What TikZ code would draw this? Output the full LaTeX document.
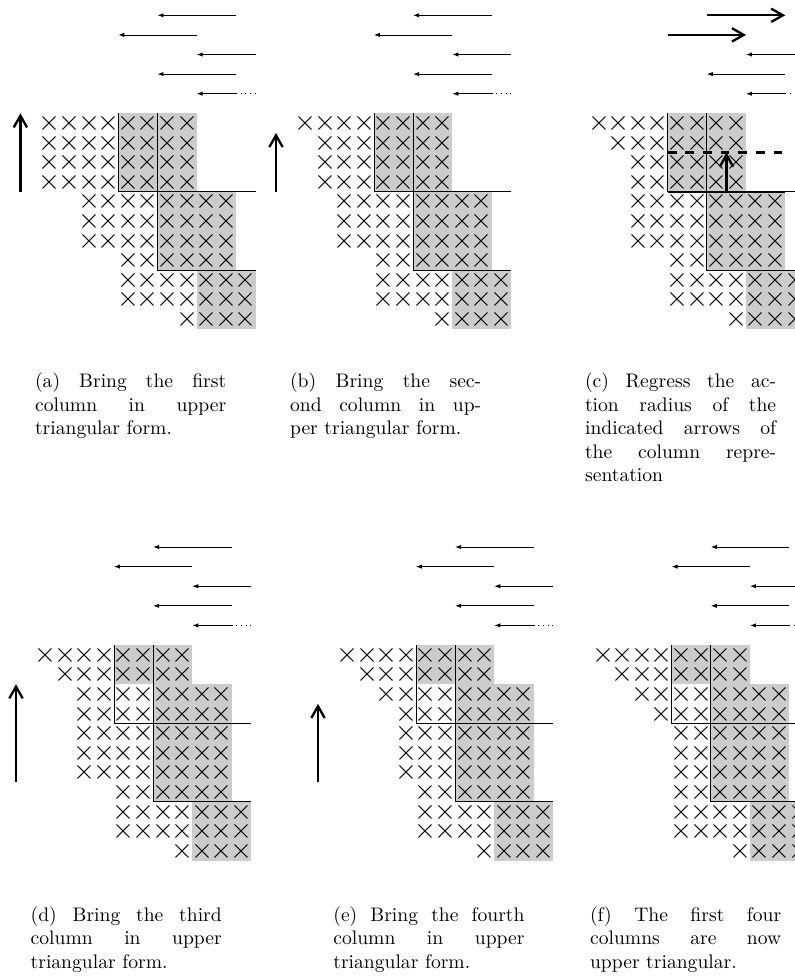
\documentclass[tikz,border=0pt]{standalone}
\usetikzlibrary{arrows.meta}
\definecolor{cellgray}{gray}{0.8}
\tikzset{
  thinarrow/.style={line width=0.4pt,-{Latex[length=3pt,width=2.2pt]}},
  bigarrow/.style={line width=1.2pt,-{Straight Barb[length=6pt,width=6.8pt]}},
  xmark/.style={inner sep=0pt,outer sep=0pt,font=\fontsize{14.6}{16}\selectfont},
  rulex/.style={line width=0.5pt},
  graybox/.style={fill=cellgray,draw=none},
  captext/.style={text width=97.5pt,align=justify,inner sep=0pt,anchor=north west,font=\normalsize},
}
\newcommand{\xrow}[4]{%
  \foreach \cc in {#3,...,#4} {\node[xmark] (#1-#2-\cc) at (\cc+0.5,#2+0.52) {$\times$};}%
}
\newcommand{\lowerrows}[1]{%
  \xrow{#1}{7}{4}{9}\xrow{#1}{8}{4}{10}\xrow{#1}{9}{4}{10}\xrow{#1}{10}{7}{10}%
}
\newcommand{\toparrows}[1]{%
  \coordinate (#1-a1s) at (10,-5); \coordinate (#1-a1e) at (6,-5);
  \coordinate (#1-a2s) at (8,-4);  \coordinate (#1-a2e) at (4,-4);
  \coordinate (#1-a3s) at (11,-3); \coordinate (#1-a3e) at (8,-3);
  \coordinate (#1-a4s) at (10,-2); \coordinate (#1-a4e) at (6,-2);
  \coordinate (#1-a5s) at (10,-1); \coordinate (#1-a5e) at (8,-1);
  \coordinate (#1-a5d) at (11,-1);
  \draw[thinarrow] (#1-a1s) -- (#1-a1e);
  \draw[thinarrow] (#1-a2s) -- (#1-a2e);
  \draw[thinarrow] (#1-a3s) -- (#1-a3e);
  \draw[thinarrow] (#1-a4s) -- (#1-a4e);
  \draw[thinarrow] (#1-a5s) -- (#1-a5e);
  \draw[line width=0.4pt,dotted] (#1-a5d) -- (#1-a5s);
}
\newcommand{\rulesA}[1]{%
  \coordinate (#1-p0) at (4,0); \coordinate (#1-p1) at (4,4); \coordinate (#1-p2) at (11,4);
  \coordinate (#1-q0) at (6,0); \coordinate (#1-q1) at (6,8); \coordinate (#1-q2) at (11,8);
  \draw[rulex] (#1-p0) -- (#1-p1) -- (#1-p2);
  \draw[rulex] (#1-q0) -- (#1-q1) -- (#1-q2);
}
\begin{document}
\begin{tikzpicture}[x=0.5102pt,y=-0.5102pt]
\useasboundingbox (0,0) rectangle (795,977);
\clip (0,0) rectangle (795,977);

% ---------- (a)
\begin{scope}[shift={(40,113.3)},x=10pt,y=-10pt]
  \fill[graybox] (4,0) rectangle (8,4);
  \fill[graybox] (6,4) rectangle (10,8);
  \fill[graybox] (8,8) rectangle (11,11);
  \xrow{a}{0}{0}{7}\xrow{a}{1}{0}{7}\xrow{a}{2}{0}{7}\xrow{a}{3}{0}{7}
  \xrow{a}{4}{2}{9}\xrow{a}{5}{2}{9}\xrow{a}{6}{2}{9}
  \lowerrows{a}
  \rulesA{a}
  \toparrows{a}
  \coordinate (a-up0) at (-1,4); \coordinate (a-up1) at (-1,0);
  \draw[bigarrow] (a-up0) -- (a-up1);
\end{scope}

% ---------- (b)
\begin{scope}[shift={(295.6,113.3)},x=10pt,y=-10pt]
  \fill[graybox] (4,0) rectangle (8,4);
  \fill[graybox] (6,4) rectangle (10,8);
  \fill[graybox] (8,8) rectangle (11,11);
  \xrow{b}{0}{0}{7}\xrow{b}{1}{1}{7}\xrow{b}{2}{1}{7}\xrow{b}{3}{1}{7}
  \xrow{b}{4}{2}{9}\xrow{b}{5}{2}{9}\xrow{b}{6}{2}{9}
  \lowerrows{b}
  \rulesA{b}
  \toparrows{b}
  \coordinate (b-up0) at (-1,4); \coordinate (b-up1) at (-1,1);
  \draw[bigarrow] (b-up0) -- (b-up1);
\end{scope}

% ---------- (c)
\begin{scope}[shift={(589.3,113.3)},x=10pt,y=-10pt]
  \fill[graybox] (4,0) rectangle (8,4);
  \fill[graybox] (6,4) rectangle (10,8);
  \fill[graybox] (8,8) rectangle (11,11);
  \xrow{c}{0}{0}{7}\xrow{c}{1}{1}{7}\xrow{c}{2}{2}{7}\xrow{c}{3}{2}{7}
  \xrow{c}{4}{2}{9}\xrow{c}{5}{2}{9}\xrow{c}{6}{2}{9}
  \lowerrows{c}
  \rulesA{c}
  \coordinate (c-t0) at (4,4); \coordinate (c-t1) at (10,4);
  \draw[line width=1.2pt] (c-t0) -- (c-t1);
  \coordinate (c-d0) at (4,2); \coordinate (c-d1) at (10,2);
  \draw[line width=1.2pt,dash pattern=on 4.5pt off 4.5pt] (c-d0) -- (c-d1);
  \coordinate (c-up0) at (7,4); \coordinate (c-up1) at (7,2);
  \draw[bigarrow] (c-up0) -- (c-up1);
  % top arrows
  \coordinate (c-a1s) at (6,-5); \coordinate (c-a1e) at (10,-5);
  \coordinate (c-a2s) at (4,-4); \coordinate (c-a2e) at (8,-4);
  \coordinate (c-a3s) at (11,-3); \coordinate (c-a3e) at (8,-3);
  \coordinate (c-a4s) at (10,-2); \coordinate (c-a4e) at (6,-2);
  \coordinate (c-a5s) at (10,-1); \coordinate (c-a5e) at (8,-1);
  \coordinate (c-a5d) at (11,-1);
  \draw[bigarrow] (c-a1s) -- (c-a1e);
  \draw[bigarrow] (c-a2s) -- (c-a2e);
  \draw[thinarrow] (c-a3s) -- (c-a3e);
  \draw[thinarrow] (c-a4s) -- (c-a4e);
  \draw[thinarrow] (c-a5s) -- (c-a5e);
  \draw[line width=0.4pt,dotted] (c-a5d) -- (c-a5s);
\end{scope}

% ---------- (d)
\begin{scope}[shift={(35.6,645)},x=10pt,y=-10pt]
  \fill[graybox] (4,0) rectangle (8,2);
  \fill[graybox] (6,2) rectangle (10,8);
  \fill[graybox] (8,8) rectangle (11,11);
  \xrow{d}{0}{0}{7}\xrow{d}{1}{1}{7}\xrow{d}{2}{2}{9}\xrow{d}{3}{2}{9}
  \xrow{d}{4}{2}{9}\xrow{d}{5}{2}{9}\xrow{d}{6}{2}{9}
  \lowerrows{d}
  \rulesA{d}
  \toparrows{d}
  \coordinate (d-up0) at (-1,7); \coordinate (d-up1) at (-1,2);
  \draw[bigarrow] (d-up0) -- (d-up1);
\end{scope}

% ---------- (e)
\begin{scope}[shift={(337.6,645)},x=10pt,y=-10pt]
  \fill[graybox] (4,0) rectangle (8,2);
  \fill[graybox] (6,2) rectangle (10,8);
  \fill[graybox] (8,8) rectangle (11,11);
  \xrow{e}{0}{0}{7}\xrow{e}{1}{1}{7}\xrow{e}{2}{2}{9}\xrow{e}{3}{3}{9}
  \xrow{e}{4}{3}{9}\xrow{e}{5}{3}{9}\xrow{e}{6}{3}{9}
  \lowerrows{e}
  \rulesA{e}
  \toparrows{e}
  \coordinate (e-up0) at (-1,7); \coordinate (e-up1) at (-1,3);
  \draw[bigarrow] (e-up0) -- (e-up1);
\end{scope}

% ---------- (f)
\begin{scope}[shift={(593.3,645)},x=10pt,y=-10pt]
  \fill[graybox] (4,0) rectangle (8,2);
  \fill[graybox] (6,2) rectangle (10,8);
  \fill[graybox] (8,8) rectangle (11,11);
  \xrow{f}{0}{0}{7}\xrow{f}{1}{1}{7}\xrow{f}{2}{2}{9}\xrow{f}{3}{3}{9}
  \xrow{f}{4}{4}{9}\xrow{f}{5}{4}{9}\xrow{f}{6}{4}{9}
  \lowerrows{f}
  \rulesA{f}
  \toparrows{f}
\end{scope}

% ---------- captions
\node[captext] (capa) at (34.7,372.6) {(a) Bring the first\linebreak column in upper\linebreak triangular form.};
\node[captext] (capb) at (289.7,372.6) {(b) Bring the sec-\linebreak ond column in up-\linebreak per triangular form.};
\node[captext] (capc) at (584.7,372.6) {(c) Regress the ac-\linebreak tion radius of the\linebreak indicated arrows of\linebreak the column repre-\linebreak sentation};
\node[captext] (capd) at (30.3,906) {(d) Bring the third\linebreak column in upper\linebreak triangular form.};
\node[captext] (cape) at (333,906) {(e) Bring the fourth\linebreak column in upper\linebreak triangular form.};
\node[captext] (capf) at (589.7,906) {(f) The first four\linebreak columns are now\linebreak upper triangular.};
\end{tikzpicture}
\end{document}
